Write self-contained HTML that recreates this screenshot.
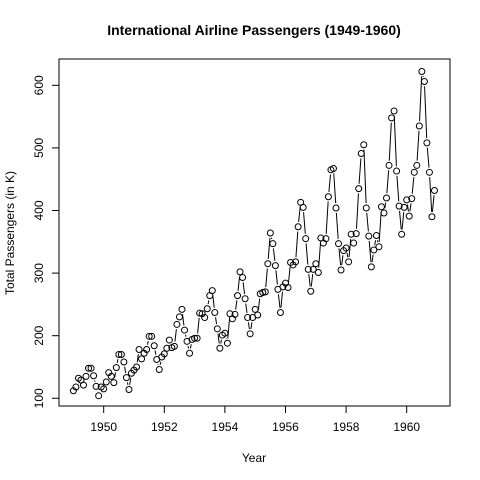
<!DOCTYPE html>
<html><head><meta charset="utf-8"><style>
html,body{margin:0;padding:0;background:#fff;}
svg{display:block;font-family:"Liberation Sans",Arial,sans-serif;}
</style></head><body>
<svg id="chart" width="480" height="480">
<text x="254" y="35" text-anchor="middle" font-size="14" font-weight="bold">International Airline Passengers (1949-1960)</text>
<text x="254" y="462" text-anchor="middle" font-size="12">Year</text>
<text transform="translate(14,233) rotate(-90)" text-anchor="middle" font-size="12">Total Passengers (in K)</text>
<rect x="59" y="59" width="391" height="347" fill="none" stroke="#000" stroke-width="1"/>
<g id="axes"></g>
<g id="series"></g>
</svg>
<script>
const startYear = 1949;
const passengers = [112,118,132,129,121,135,148,148,136,119,104,118,
115,126,141,135,125,149,170,170,158,133,114,140,
145,150,178,163,172,178,199,199,184,162,146,166,
171,180,193,181,183,218,230,242,209,191,172,194,
196,196,236,235,229,243,264,272,237,211,180,201,
204,188,235,227,234,264,302,293,259,229,203,229,
242,233,267,269,270,315,364,347,312,274,237,278,
284,277,317,313,318,374,413,405,355,306,271,306,
315,301,356,348,355,422,465,467,404,347,305,336,
340,318,362,348,363,435,491,505,404,359,310,337,
360,342,406,396,420,472,548,559,463,407,362,405,
417,391,419,461,472,535,622,606,508,461,390,432];
const xTicks = [1950,1952,1954,1956,1958,1960];
const yTicks = [100,200,300,400,500,600];

const NS = "http://www.w3.org/2000/svg";
function xs(t){ return 73.4 + (t - 1949) * 30.3; }
function ys(v){ return 398.3 - (v - 100) * 0.626; }
function mk(tag, attrs, parent){ const e = document.createElementNS(NS, tag); for (const k in attrs) e.setAttribute(k, attrs[k]); parent.appendChild(e); return e; }

const axes = document.getElementById('axes');
mk('line', {x1: xs(xTicks[0]), x2: xs(xTicks[xTicks.length-1]), y1: 406, y2: 406, stroke: '#000'}, axes);
xTicks.forEach(t => {
  const l = mk('line', {x1: xs(t), x2: xs(t), y1: 406, y2: 413, stroke: '#000'}, axes);
  
  
  const tx = mk('text', {x: xs(t), y: 431, 'text-anchor': 'middle', 'font-size': 12}, axes);
  tx.textContent = t;
  
  
});
mk('line', {x1: 59, x2: 59, y1: ys(yTicks[0]), y2: ys(yTicks[yTicks.length-1]), stroke: '#000'}, axes);
yTicks.forEach(v => {
  const l = mk('line', {x1: 52, x2: 59, y1: ys(v), y2: ys(v), stroke: '#000'}, axes);
  
  
  const tx = mk('text', {transform: `translate(43,${ys(v)}) rotate(-90)`, 'text-anchor': 'middle', 'font-size': 12}, axes);
  tx.textContent = v;
  
  
});

const series = document.getElementById('series');
const r = 3, gap = 4.8;
for (let i = 0; i < passengers.length - 1; i++) {
  const x1 = xs(startYear + i/12), y1 = ys(passengers[i]);
  const x2 = xs(startYear + (i+1)/12), y2 = ys(passengers[i+1]);
  const d = Math.hypot(x2-x1, y2-y1);
  if (d > 2*gap) {
    const ux = (x2-x1)/d, uy = (y2-y1)/d;
    const l = mk('line', {x1: x1+ux*gap, y1: y1+uy*gap, x2: x2-ux*gap, y2: y2-uy*gap, stroke: '#000', 'stroke-width': 1}, series);
    
    
  }
}
passengers.forEach((v, i) => {
  const c = mk('circle', {cx: xs(startYear + i/12), cy: ys(v), r: r, fill: 'none', stroke: '#000', 'stroke-width': 1}, series);
  
  
});
</script>
</body></html>
